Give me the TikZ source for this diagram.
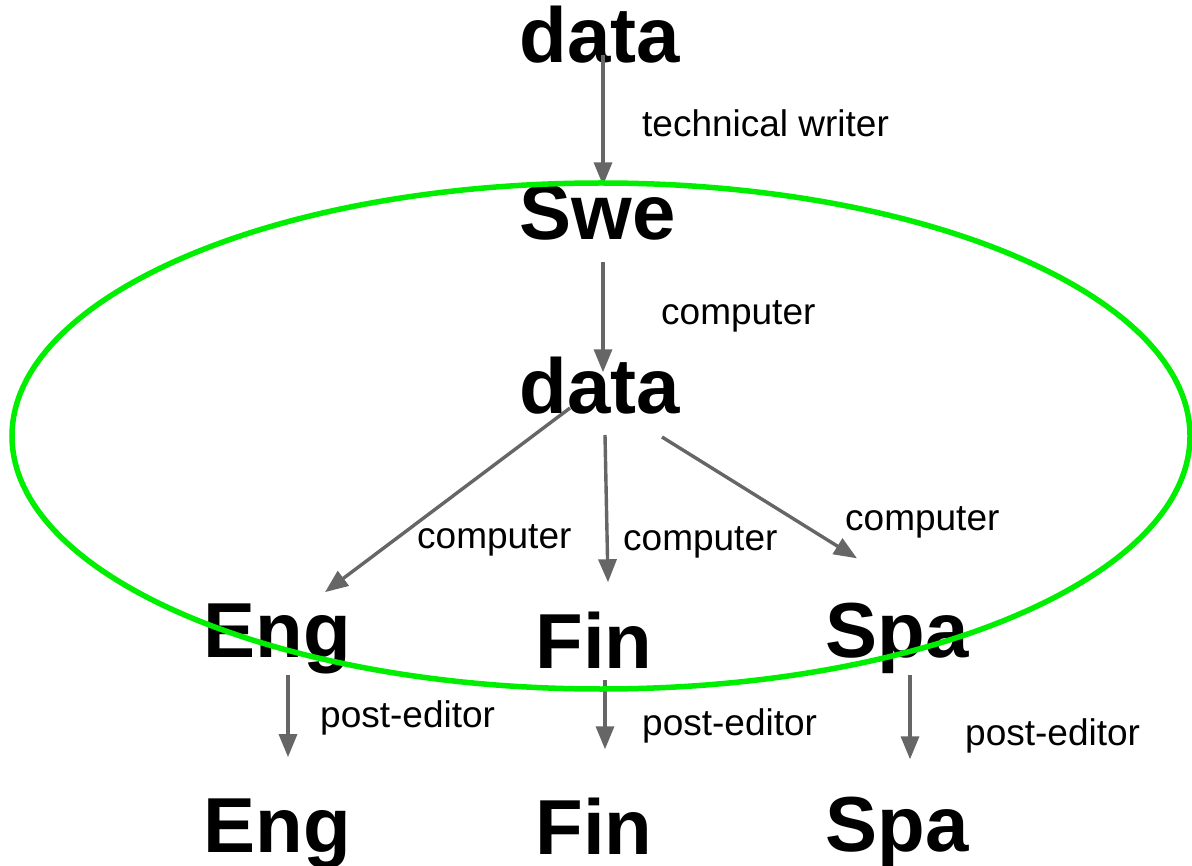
\documentclass[tikz,border=0pt]{standalone}
\usepackage{fontspec}
\setmainfont{Liberation Sans}
\usetikzlibrary{calc,arrows.meta,positioning}
\definecolor{edgegray}{HTML}{666666}
\definecolor{ringgreen}{HTML}{00EE00}
\tikzstyle{lang} = [inner sep=0pt, anchor=base,
    font=\bfseries\fontsize{78}{78}\selectfont]
\tikzstyle{line} = [draw=edgegray, line width=3.4pt,
    -{Triangle[length=23pt,width=18pt]}]
\tikzset{
  role/.style={
    inner sep=0pt,
    anchor=base west,
    font=\fontsize{37}{37}\selectfont},
  ring/.style={draw=ringgreen, line width=5.5pt},
}

\begin{document}
\begin{tikzpicture}[x=1pt, y=-1pt]
    \useasboundingbox (0,0) rectangle (1192,866);
    % Place nodes
    \node [lang] (dataTop) at (600,63) {data};
    \node [lang] (swe) at (598,240) {Swe};
    \node [lang] (dataMid) at (600,414) {data};
    \node [lang] (engRaw) at (277,657) {Eng};
    \node [lang] (finRaw) at (594,668) {Fin};
    \node [lang] (spaRaw) at (897,657) {Spa};
    \node [lang] (engPost) at (277,852) {Eng};
    \node [lang] (finPost) at (594,854) {Fin};
    \node [lang] (spaPost) at (897,851) {Spa};
    % Place labels
    \node [role] (writerLbl) at (642,137) {technical writer};
    \node [role] (compSwe) at (661,325) {computer};
    \node [role] (compEng) at (417,548) {computer};
    \node [role] (compFin) at (623,550) {computer};
    \node [role] (compSpa) at (845,530) {computer};
    \node [role] (postEng) at (320,727) {post-editor};
    \node [role] (postFin) at (642,735) {post-editor};
    \node [role] (postSpa) at (965,745) {post-editor};
    % Draw edges
    \path [line] ($(dataTop.base)+(3,-8)$) -- ($(swe.north)+(5,0)$);
    \path [line] ($(swe.base)+(5,22)$) -- ($(dataMid.north)+(3,15)$);
    \path [line] ($(dataMid.base)+(-30,-6)$) -- ($(engRaw.north)+(48,-11)$);
    \path [line] ($(dataMid.base)+(5,21)$) -- ($(finRaw.north)+(14,-29)$);
    \path [line] ($(dataMid.base)+(62,23)$) -- ($(spaRaw.north)+(-40,-44)$);
    \path [line] ($(engRaw.base)+(11,18)$) -- ($(engPost.north)+(11,-41)$);
    \path [line] ($(finRaw.base)+(11,12)$) -- ($(finPost.north)+(11,-48)$);
    \path [line] ($(spaRaw.base)+(13,18)$) -- ($(spaPost.north)+(13,-37)$);
    % Draw ring
    \draw [ring] (601,436) ellipse [x radius=589, y radius=253];
\end{tikzpicture}
\end{document}
